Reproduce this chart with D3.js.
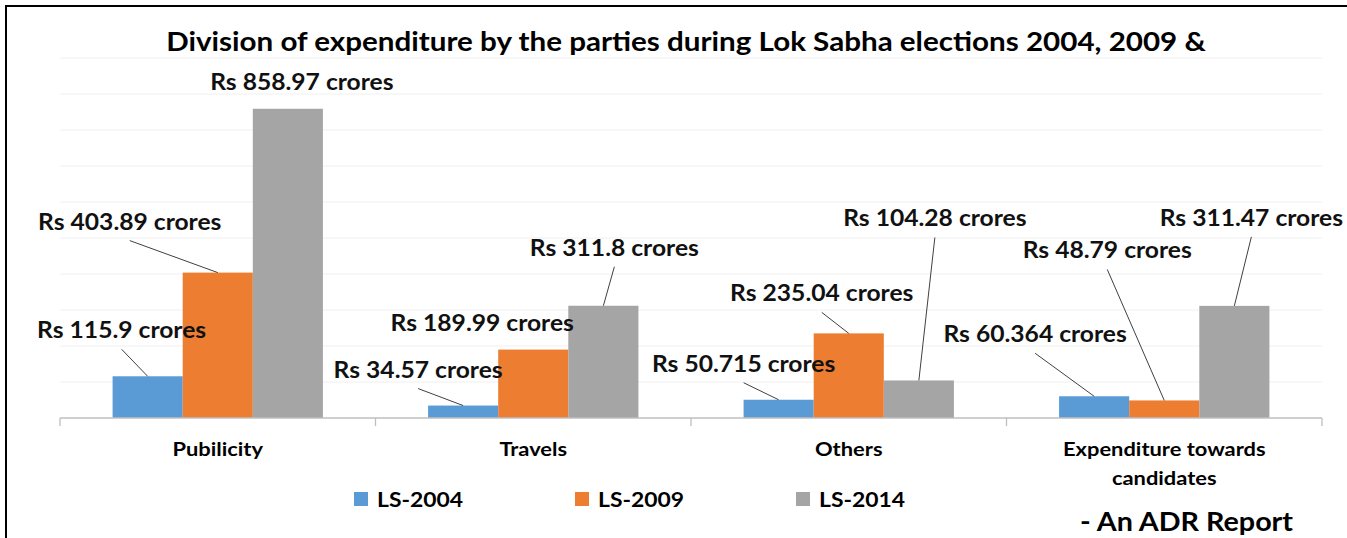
<!DOCTYPE html>
<html>
<head>
<meta charset="utf-8">
<script src="https://cdn.jsdelivr.net/npm/d3@7"></script>
<style>
  body { margin: 0; background: #fff; }
  svg { display: block; font-family: Lato, "Open Sans", sans-serif; }
</style>
</head>
<body>
<div id="chart"></div>
<script>
// categories and series
var categories = ["Pubilicity", "Travels", "Others", "Expenditure towards candidates"];
var series = ["LS-2004", "LS-2009", "LS-2014"];
var colors = ["#5B9BD5", "#ED7D31", "#A5A5A5"];

// values in Rs crores, one array per series
var ls2004 = [115.9, 34.57, 50.715, 60.364];
var ls2009 = [403.89, 189.99, 235.04, 48.79];
var ls2014 = [858.97, 311.8, 104.28, 311.47];

// label text as printed on the chart
var labels2004 = ["Rs 115.9 crores", "Rs 34.57 crores", "Rs 50.715 crores", "Rs 60.364 crores"];
var labels2009 = ["Rs 403.89 crores", "Rs 189.99 crores", "Rs 235.04 crores", "Rs 48.79 crores"];
var labels2014 = ["Rs 858.97 crores", "Rs 311.8 crores", "Rs 104.28 crores", "Rs 311.47 crores"];

var yTicks = [0, 100, 200, 300, 400, 500, 600, 700, 800, 900, 1000];

// hand placed label offsets (from bar top centre) and whether a leader line is drawn
var labelOffsets = [
  [[-26, -46, true], [-88, -51, true], [14, -27, false]],
  [[-45, -36, true], [-51, -27, false], [11, -58, true]],
  [[-35, -36, true], [-27, -40, true], [16, -162, true]],
  [[-59, -62, true], [-57, -150, true], [17, -88, true]]
];

var W = 1347, H = 538;
var pLeft = 60, pRight = 1322, pTop = 58, pBottom = 418;
// the original picture is a bit stretched sideways, so is its text
var stretch = 1.1;

var svg = d3.select("#chart").append("svg")
  .attr("width", W)
  .attr("height", H);

// adds a text stretched sideways around its anchor point
function addText(parent, x, y, str, size, anchor){
  return parent.append("text")
    .attr("transform", "translate(" + x + "," + y + ") scale(" + stretch + ",1)")
    .attr("text-anchor", anchor || "middle")
    .attr("font-size", size)
    .attr("font-weight", "bold")
    .attr("fill", "#000")
    .text(str);
}

// frame of the picture
svg.append("rect")
  .attr("x", 6).attr("y", 6)
  .attr("width", W + 10).attr("height", H + 10)
  .attr("fill", "none")
  .attr("stroke", "#000")
  .attr("stroke-width", 2);

var x = d3.scaleBand().domain(categories).range([pLeft, pRight]).padding(0);
var xs = d3.scaleBand().domain(series).range([0, x.bandwidth()]).paddingInner(0).paddingOuter(0.75);
var y = d3.scaleLinear().domain([0, 1000]).range([pBottom, pTop]);

// gridlines
svg.append("g").selectAll("line")
  .data(yTicks.slice(1))
  .enter().append("line")
  .attr("x1", pLeft).attr("x2", pRight)
  .attr("y1", function(d){ return y(d); })
  .attr("y2", function(d){ return y(d); })
  .attr("stroke", "#F0F0F0")
  .attr("stroke-width", 1);

// title
addText(svg, 686, 51, "Division of expenditure by the parties during Lok Sabha elections 2004, 2009 &", 26.9);

var values = [ls2004, ls2009, ls2014];
var labelTexts = [labels2004, labels2009, labels2014];

var bars = [];
categories.forEach(function(c, ci){
  series.forEach(function(s, si){
    bars.push({cat: c, ci: ci, ser: s, si: si, v: values[si][ci], label: labelTexts[si][ci]});
  });
});

svg.append("g").selectAll("rect")
  .data(bars)
  .enter().append("rect")
  .attr("x", function(d){ return x(d.cat) + xs(d.ser); })
  .attr("y", function(d){ return y(d.v); })
  .attr("width", xs.bandwidth())
  .attr("height", function(d){ return y(0) - y(d.v); })
  .attr("fill", function(d){ return colors[d.si]; });

// x axis
var axis = svg.append("g").attr("transform", "translate(0," + pBottom + ")");
axis.append("line")
  .attr("x1", pLeft).attr("x2", pRight)
  .attr("stroke", "#BFBFBF").attr("stroke-width", 1.3);
axis.selectAll("line.tick")
  .data(categories.map(function(c){ return x(c); }).concat([pRight]))
  .enter().append("line")
  .attr("class", "tick")
  .attr("x1", function(d){ return d; }).attr("x2", function(d){ return d; })
  .attr("y1", 0).attr("y2", 8)
  .attr("stroke", "#BFBFBF").attr("stroke-width", 1.3);

// category labels, wrapped like the original
var catLines = [["Pubilicity"], ["Travels"], ["Others"], ["Expenditure towards", "candidates"]];
categories.forEach(function(c, ci){
  catLines[ci].forEach(function(line, li){
    addText(svg, x(c) + x.bandwidth() / 2, 456 + li * 29, line, 19.9);
  });
});

// data labels with leader lines
var lbl = svg.append("g");
bars.forEach(function(d){
  var off = labelOffsets[d.ci][d.si];
  var bx = x(d.cat) + xs(d.ser) + xs.bandwidth() / 2;
  var by = y(d.v);
  var lx = bx + off[0], ly = by + off[1];
  if (off[2]) {
    lbl.append("line")
      .attr("x1", lx).attr("y1", ly + 19)
      .attr("x2", bx).attr("y2", by)
      .attr("stroke", "#404040")
      .attr("stroke-width", 1);
  }
  addText(lbl, lx, ly + 8, d.label, 22.4).attr("fill", "#111");
});

// legend
var legend = svg.append("g");
series.forEach(function(s, si){
  var g = legend.append("g").attr("transform", "translate(" + (354 + si * 221) + ",492)");
  g.append("rect").attr("width", 14).attr("height", 14).attr("fill", colors[si]);
  addText(g, 23, 15, s, 20.8, "start");
});

// source note
addText(svg, 1293, 531, "- An ADR Report", 26.1, "end");
</script>
</body>
</html>
